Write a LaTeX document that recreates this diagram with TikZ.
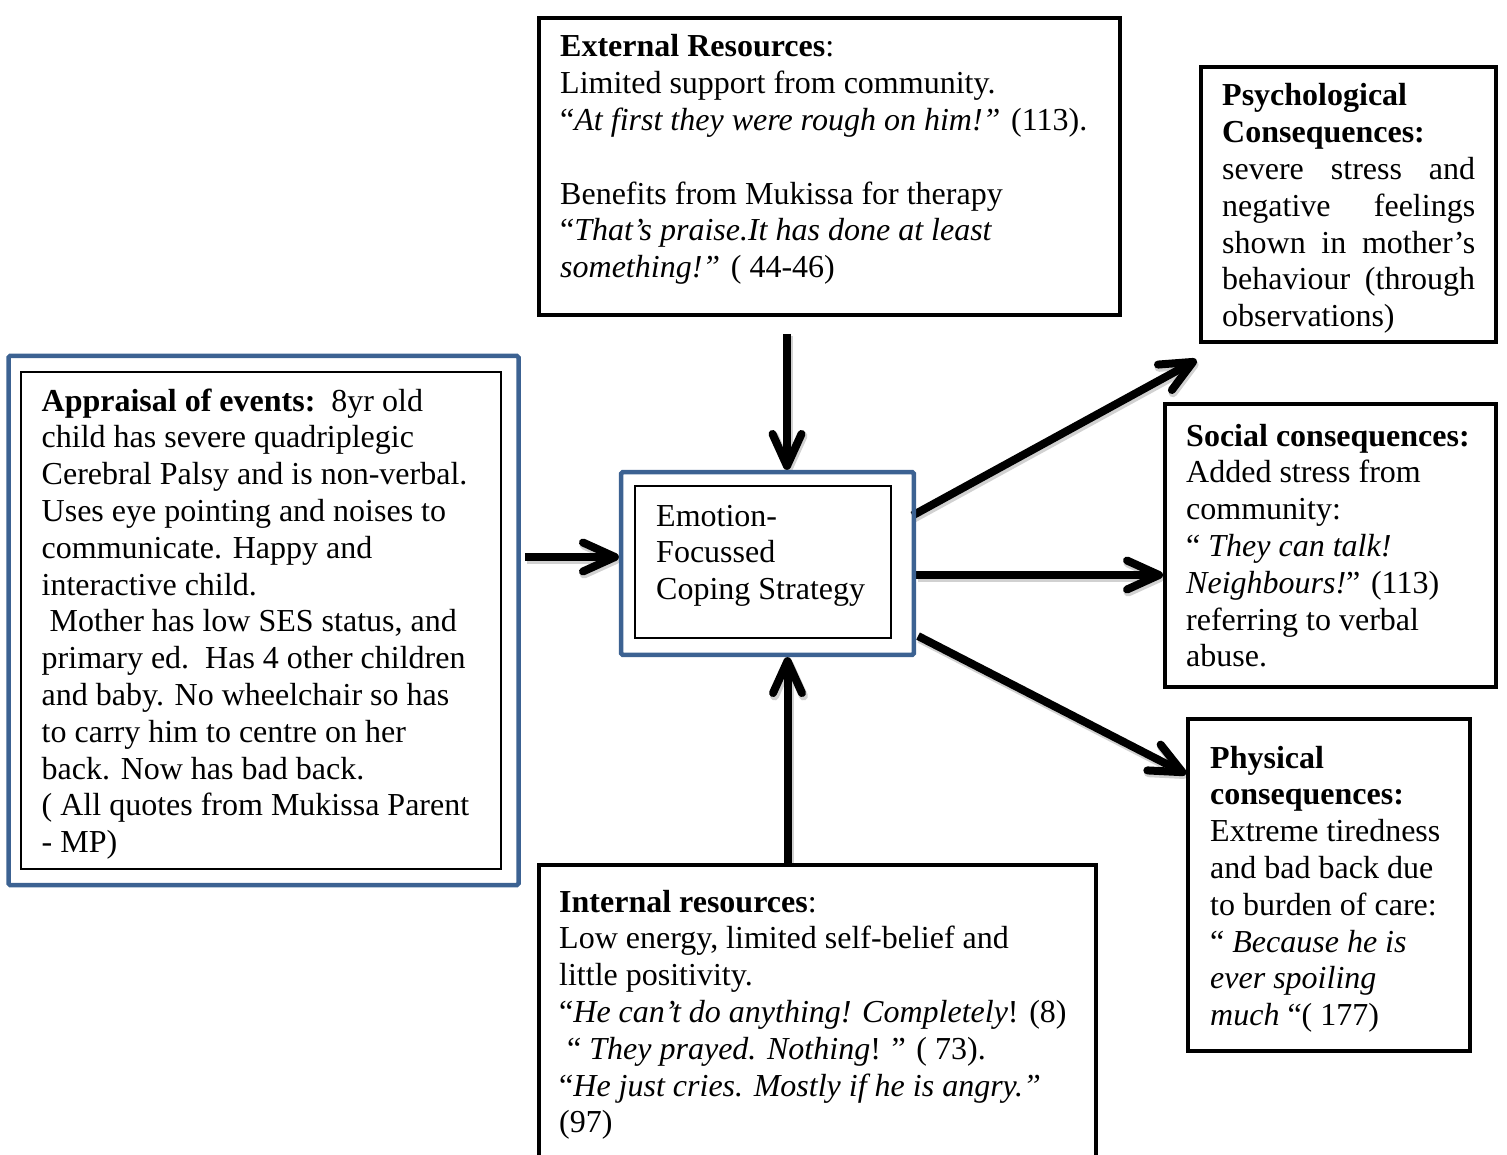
\documentclass[tikz,border=0pt]{standalone}
\usepackage{fontspec}
\setmainfont{Liberation Serif}
\usetikzlibrary{arrows.meta,calc}
\definecolor{bblue}{HTML}{3C6292}
\pgfdeclarelayer{bg}
\pgfsetlayers{bg,main}
\begin{document}
\begin{tikzpicture}[x=1pt,y=-1pt,
  box/.style={draw=black,line width=4pt,inner sep=0pt},
  bluebox/.style={draw=bblue,line width=4.5pt,inner sep=0pt,rounded corners=1.5pt},
  thinbox/.style={draw=black,line width=1.6pt,inner sep=0pt},
  txt/.style={anchor=base west,inner sep=0pt,align=left,font=\fontsize{32}{36.8}\selectfont},
  arr/.style={line width=8pt,-{Straight Barb[length=32pt,width=29pt,round]},
    preaction={draw=black!18,line width=9pt,transform canvas={shift={(1.5pt,-2.5pt)}}}}
]
\useasboundingbox (0,0) rectangle (1507,1155);

% boxes
\node[bluebox,minimum width=510pt,minimum height=529pt] (apprO) at (263.5,620.5) {};
\node[thinbox,minimum width=480pt,minimum height=497pt] (apprI) at (260.7,620.6) {};
\node[bluebox,minimum width=292.6pt,minimum height=182.6pt] (emoO) at (767.5,563.5) {};
\node[thinbox,minimum width=256pt,minimum height=152pt] (emoI) at (763,562) {};
\node[box,minimum width=581pt,minimum height=297pt] (ext) at (829.5,166.5) {};
\node[box,minimum width=295pt,minimum height=275pt] (psy) at (1348.5,204.5) {};
\node[box,minimum width=331pt,minimum height=283pt] (soc) at (1330.5,545.5) {};
\node[box,minimum width=282pt,minimum height=332pt] (phy) at (1329,885) {};
\node[box,minimum width=557pt,minimum height=350pt] (int) at (817.5,1040) {};

% texts (anchored at the baseline of their last line)
\node[txt] (tappr) at (41.5,852.6) {\textbf{Appraisal of events:}\ \ 8yr old\\
child has severe quadriplegic\\
Cerebral Palsy and is non-verbal.\\
Uses eye pointing and noises to\\
communicate. Happy and\\
interactive child.\\
\ Mother has low SES status, and\\
primary ed.\ \ Has 4 other children\\
and baby. No wheelchair so has\\
to carry him to centre on her\\
back. Now has bad back.\\
( All quotes from Mukissa Parent\\
- MP)};

\node[txt] (temo) at (656,599.6) {Emotion-\\Focussed\\Coping Strategy};

\node[txt] (text) at (560,277.8) {\textbf{External Resources}:\\
Limited support from community.\\
“\textit{At first they were rough on him!”} (113).\\[36.8pt]
Benefits from Mukissa for therapy\\
“\textit{That’s praise.It has done at least}\\
\textit{something!”} ( 44-46)};

\node[txt] (tpsy) at (1222,326.8) {\textbf{Psychological}\\
\textbf{Consequences:}\\
\makebox[253pt][s]{severe stress and}\\
\makebox[253pt][s]{negative feelings}\\
\makebox[253pt][s]{shown in mother’s}\\
\makebox[253pt][s]{behaviour (through}\\
observations)};

\node[txt] (tsoc) at (1186,666.8) {\textbf{Social consequences:}\\
Added stress from\\
community:\\
“ \textit{They can talk!}\\
\textit{Neighbours!}” (113)\\
referring to verbal\\
abuse.};

\node[txt] (tphy) at (1210,1025.6) {\textbf{Physical}\\
\textbf{consequences:}\\
Extreme tiredness\\
and bad back due\\
to burden of care:\\
“ \textit{Because he is}\\
\textit{ever spoiling}\\
\textit{much} “( 177)};

\node[txt] (tint) at (559,1132.8) {\textbf{Internal resources}:\\
Low energy, limited self-belief and\\
little positivity.\\
“\textit{He can’t do anything! Completely}! (8)\\
\ “ \textit{They prayed. Nothing}! ” ( 73).\\
“\textit{He just cries. Mostly if he is angry.”}\\
(97)};

% arrows
\coordinate (a1s) at (787,334);
\coordinate (a2s) at (525,557);
\coordinate (x3) at (787.5,0);
\coordinate (y4) at (0,575);
\coordinate (a5s) at (912.5,515.5);
\coordinate (y6) at (0,774);
\begin{pgfonlayer}{bg}
\draw[arr] (a1s) -- (a1s |- emoO.north);
\draw[arr] (a2s) -- (a2s -| emoO.west);
\draw[arr] (x3 |- int.north) -- (x3 |- emoO.south);
\draw[arr] (emoO.east |- y4) -- (soc.west |- y4);
\draw[arr] (a5s) -- ($(psy.south west)+(-2.5,16)$);
\draw[arr] ($(emoO.south east)+(2,-21)$) -- (phy.west |- y6);
\end{pgfonlayer}
\end{tikzpicture}
\end{document}
